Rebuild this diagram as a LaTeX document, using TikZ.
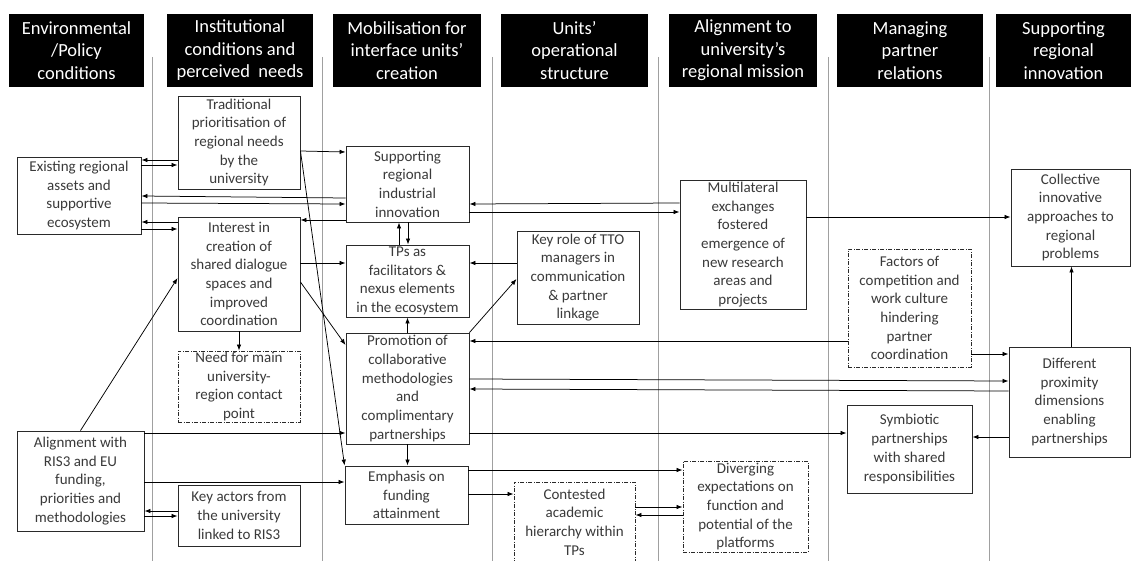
\documentclass[tikz,border=0pt]{standalone}
\usepackage{fontspec}
\setmainfont{Carlito}
\usetikzlibrary{arrows.meta}
\definecolor{txt}{HTML}{3A3A3A}
\definecolor{edge}{HTML}{2A2A2A}
\definecolor{vline}{HTML}{A0A0A0}
\tikzset{
  hdr/.style={fill=black, text=white, inner sep=0pt, align=center,
    minimum height=73pt, font=\fontsize{18.5}{22.5}\selectfont},
  box/.style={draw=edge, line width=0.9pt, fill=white, text=txt, inner sep=0pt,
    align=center, font=\fontsize{15}{18.7}\selectfont},
  dbox/.style={box, dash pattern=on 4pt off 1.5pt on 1pt off 1.5pt},
  arr/.style={-{Latex[length=6pt,width=4.5pt]}, line width=0.75pt, draw=black},
  colline/.style={draw=vline, line width=0.9pt}
}
\begin{document}
\begin{tikzpicture}[x=1pt,y=-1pt]
\useasboundingbox (0,0) rectangle (1131,561);
% column separators
\foreach \xx in {152,322,492,658,828,989} \draw[colline] (\xx,57) -- (\xx,561);
% headers
\node[hdr, minimum width=135pt] (H1) at (76.5,50.5) {Environmental\\/Policy\\conditions};
\node[hdr, minimum width=146pt] (H2) at (240,50.5) {Institutional\\conditions and\\perceived\ \ needs};
\node[hdr, minimum width=148pt] (H3) at (407,50.5) {Mobilisation for\\interface units’\\creation};
\node[hdr, minimum width=147pt] (H4) at (574.5,50.5) {Units’\\operational\\structure};
\node[hdr, minimum width=148pt] (H5) at (743,50.5) {Alignment to\\university’s\\regional mission};
\node[hdr, minimum width=146pt] (H6) at (910,50.5) {Managing\\partner\\relations};
\node[hdr, minimum width=135pt] (H7) at (1063.5,50.5) {Supporting\\regional\\innovation};
% boxes
\node[box, minimum width=124pt, minimum height=77pt] (E) at (79,195.5) {Existing regional\\assets and\\supportive\\ecosystem};
\node[box, minimum width=122pt, minimum height=93pt] (T) at (239,142.5) {Traditional\\prioritisation of\\regional needs\\by the\\university};
\node[box, minimum width=122pt, minimum height=114pt] (I) at (239,274) {Interest in\\creation of\\shared dialogue\\spaces and\\improved\\coordination};
\node[dbox, minimum width=122pt, minimum height=71pt] (N) at (239,386.5) {Need for main\\university-\\region contact\\point};
\node[box, minimum width=127pt, minimum height=100pt] (A) at (80.5,481) {Alignment with\\RIS3 and EU\\funding,\\priorities and\\methodologies};
\node[box, minimum width=122pt, minimum height=61pt] (K) at (239,515.5) {Key actors from\\the university\\linked to RIS3};
\node[box, minimum width=123pt, minimum height=76pt] (S) at (407.5,184) {Supporting\\regional\\industrial\\innovation};
\node[box, minimum width=123pt, minimum height=72pt] (TP) at (407.5,281) {TPs as\\facilitators \&\\nexus elements\\in the ecosystem};
\node[box, minimum width=123pt, minimum height=111pt] (P) at (407.5,388.5) {Promotion of\\collaborative\\methodologies\\and\\complimentary\\partnerships};
\node[box, minimum width=123pt, minimum height=58pt] (Em) at (406.5,495) {Emphasis on\\funding\\attainment};
\node[box, minimum width=122pt, minimum height=93pt] (KR) at (578,277.5) {Key role of TTO\\managers in\\communication\\\& partner\\linkage};
\node[dbox, minimum width=121pt, minimum height=80pt] (Ct) at (574.5,522) {Contested\\academic\\hierarchy within\\TPs};
\node[box, minimum width=126pt, minimum height=129pt] (M) at (743,244.5) {Multilateral\\exchanges\\fostered\\emergence of\\new research\\areas and\\projects};
\node[dbox, minimum width=125pt, minimum height=91pt] (Dv) at (745.5,506.5) {Diverging\\expectations on\\function and\\potential of the\\platforms};
\node[dbox, minimum width=123pt, minimum height=118pt] (F) at (909.5,308) {Factors of\\competition and\\work culture\\hindering\\partner\\coordination};
\node[box, minimum width=125pt, minimum height=88pt] (Sy) at (909.5,449) {Symbiotic\\partnerships\\with shared\\responsibilities};
\node[box, minimum width=119pt, minimum height=97pt] (C) at (1070.5,217.5) {Collective\\innovative\\approaches to\\regional\\problems};
\node[box, minimum width=121pt, minimum height=110pt] (D) at (1069.5,402) {Different\\proximity\\dimensions\\enabling\\partnerships};
% connectors
\draw[arr] (E.east |- 0,165) -- (T.west |- 0,165);
\draw[arr] (T.west |- 0,160) -- (E.east |- 0,160);
\draw[arr] (S.west |- 0,198) -- (E.east |- 0,196);
\draw[arr] (E.east |- 0,203) -- (S.west |- 0,204);
\draw[arr] (E.east |- 0,229) -- (I.west |- 0,229);
\draw[arr] (I.west |- 0,222) -- (E.east |- 0,222);
\draw[arr] (T.east |- 0,151) -- (S.west |- 0,152);
\draw[arr] (T.east |- 0,151) -- (Em.north west);
\draw[arr] (S.west |- 0,220) -- (I.east |- 0,220);
\draw[arr] (I.east |- 0,263) -- (TP.west |- 0,263);
\draw[arr] (I.east |- 0,282) -- (P.west |- 0,345);
\draw[arr] (I.south) -- (N.north);
\draw[arr] (A.north) -- (I.west |- 0,278);
\draw[arr] (K.west |- 0,511) -- (A.east |- 0,511);
\draw[arr] (A.east |- 0,516) -- (K.west |- 0,516);
\draw[arr] (A.east |- 0,433) -- (P.west |- 0,433);
\draw[arr] (A.east |- 0,482) -- (Em.west |- 0,482);
\draw[arr] ([xshift=-8.5pt]TP.north) -- ([xshift=-8.5pt]S.south);
\draw[arr] ([xshift=0.5pt]S.south) -- ([xshift=0.5pt]TP.north);
\draw[arr] (KR.west |- 0,263) -- (TP.east |- 0,263);
\draw[arr] (P.north east) -- (KR.west |- 0,279);
\draw[arr] (P.north) -- (TP.south);
\draw[arr] (P.south) -- (Em.north -| P.south);
\draw[arr] (M.west |- 0,203) -- (S.east |- 0,204);
\draw[arr] (S.east |- 0,212) -- (M.west |- 0,212);
\draw[arr] (M.east |- 0,217) -- (C.west |- 0,217);
\draw[arr] (F.west |- 0,341) -- (P.east |- 0,341);
\draw[arr] (F.east |- 0,354) -- (D.west |- 0,354);
\draw[arr] (P.east |- 0,379) -- (D.west |- 0,381);
\draw[arr] (D.west |- 0,391) -- (P.east |- 0,389);
\draw[arr] (P.east |- 0,433) -- (Sy.west |- 0,433);
\draw[arr] (D.west |- 0,437) -- (Sy.east |- 0,437);
\draw[arr] ([xshift=2pt]D.north) -- ([xshift=1pt]C.south);
\draw[arr] (Em.east |- 0,470) -- (Dv.west |- 0,470);
\draw[arr] (Em.east |- 0,494) -- (Ct.west |- 0,494);
\draw[arr] (Ct.east |- 0,507) -- (Dv.west |- 0,507);
\draw[arr] (Dv.west |- 0,515) -- (Ct.east |- 0,515);
\end{tikzpicture}
\end{document}
